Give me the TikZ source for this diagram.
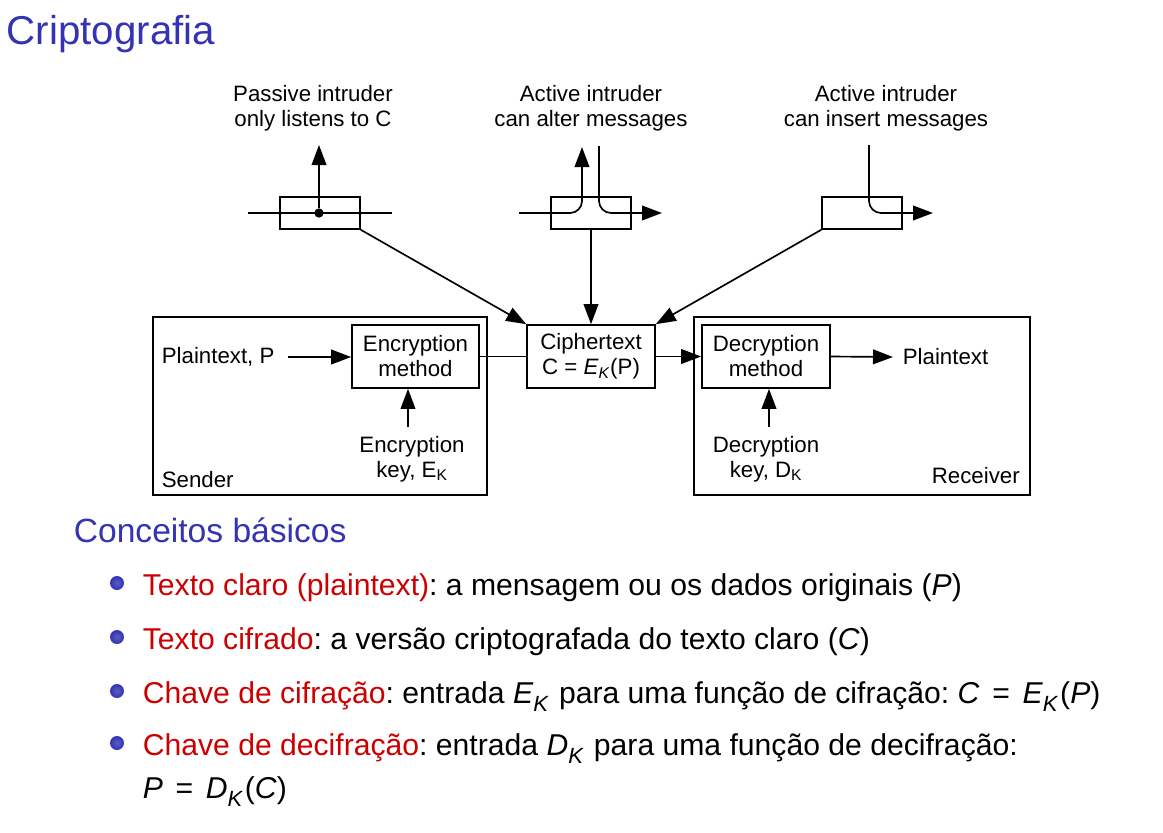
\documentclass[tikz,border=0pt]{standalone}
\usepackage{fontspec}
\setmainfont{Liberation Sans}
\usetikzlibrary{arrows.meta}
\definecolor{titleblue}{RGB}{51,51,179}
\definecolor{alertred}{RGB}{204,0,0}
\newcommand{\ital}[1]{\textit{#1}}
\newcommand{\subK}{\textsubscript{\textit{K}}}
\newcommand{\msubK}{\raisebox{-0.28em}{\fontsize{16.5}{16}\selectfont\textit{K}}\kern0.06em}
\newcommand{\meq}{\hspace{0.42em}=\hspace{0.42em}}
\frenchspacing
\begin{document}
\begin{tikzpicture}[x=0.75pt,y=-0.75pt,
  line width=1.25pt,
  >={Triangle[length=15pt,width=11pt]},
  dfont/.style={font=\fontsize{16.7}{18.8}\selectfont},
  box/.style={draw, line width=1.25pt, inner sep=0pt, dfont, align=center},
  lbl/.style={inner sep=0pt, dfont, align=center},
  itext/.style={anchor=base west, inner sep=0pt, font=\fontsize{22.6}{27}\selectfont},
  bball/.style={circle, inner sep=0pt, minimum size=10.5pt, inner color=titleblue!80!white, outer color=titleblue},
  hot/.style={text=alertred}
]
\useasboundingbox (0,0) rectangle (1163,832);

% title
\node[anchor=base west, inner sep=0pt, font=\fontsize{30.2}{36}\selectfont, text=titleblue] (title) at (6,44) {Criptografia};

% intruder labels
\node[lbl] (l1) at (313,108) {Passive intruder\\only listens to C};
\node[lbl] (l2) at (591,108) {Active intruder\\can alter messages};
\node[lbl] (l3) at (886,108) {Active intruder\\can insert messages};

% intruder boxes
\node[box, minimum width=60pt, minimum height=24pt] (b1) at (320,213) {};
\node[box, minimum width=60pt, minimum height=24pt] (b2) at (591,213) {};
\node[box, minimum width=60pt, minimum height=24pt] (b3) at (862,213) {};

% main boxes
\node[box, minimum width=250.5pt, minimum height=133.5pt] (sender) at (320,406) {};
\node[box, minimum width=252pt, minimum height=133.5pt] (receiver) at (862,406) {};
\node[box, minimum width=95.25pt, minimum height=47.25pt] (enc) at (415.5,356.5) {\raisebox{-1.5pt}{\parbox{90pt}{\centering Encryption\\method}}};
\node[box, minimum width=96pt, minimum height=47.25pt] (ciph) at (591,356.5) {\raisebox{-1.5pt}{\parbox{90pt}{\centering Ciphertext\\C = \ital{E}\subK(P)}}};
\node[box, minimum width=96pt, minimum height=47.25pt] (dec) at (766,356.5) {\raisebox{-1.5pt}{\parbox{90pt}{\centering Decryption\\method}}};

% texts in the boxes
\node[lbl, anchor=west] (ptin) at (161,357) {Plaintext, P};
\node[lbl, anchor=west] (ptout) at (902,357) {Plaintext};
\node[lbl] (ekey) at (412,459) {Encryption\\key, E\textsubscript{K}};
\node[lbl] (dkey) at (766,459) {Decryption\\key, D\textsubscript{K}};
\node[lbl, anchor=base west] (sendlbl) at (161,487) {Sender};
\node[lbl, anchor=base west] (recvlbl) at (931,483) {Receiver};

% passive intruder
\coordinate (p1l) at (248,213);
\coordinate (p1r) at (392,213);
\coordinate (p1up) at (319,145);
\draw (p1l) -- (p1r);
\node[circle, fill, inner sep=0pt, minimum size=7pt] (dot) at (319,213) {};
\draw[->] (dot) -- (p1up);
\draw[->] (b1.south east) -- (ciph.north west);

% active intruder alter
\coordinate (a2in) at (519,213);
\coordinate (a2up) at (582,147);
\coordinate (a2dn) at (599,146);
\coordinate (a2out) at (662,213);
\draw[->, rounded corners=9pt] (a2in) -- (a2in -| a2up) -- (a2up);
\draw[->, rounded corners=9pt] (a2dn) -- (a2dn |- a2out) -- (a2out);
\draw[->] (b2.south) -- (ciph.north);

% active intruder insert
\coordinate (a3dn) at (869,145);
\coordinate (a3out) at (933,213);
\draw[->, rounded corners=9pt] (a3dn) -- (a3dn |- a3out) -- (a3out);
\draw[->] (b3.south west) -- (ciph.north east);

% main flow
\coordinate (ptarrow) at (288,357);
\draw[->] (ptarrow) -- (ptarrow -| enc.west);
\coordinate (ekarrow) at (408,427);
\draw[->] (ekarrow) -- (ekarrow |- enc.south);
\draw (enc.east) -- (ciph.west);
\draw[->] (ciph.east) -- (dec.west);
\coordinate (ptoutarrow) at (893,357);
\draw[->] (dec.east) -- (ptoutarrow);
\coordinate (dkarrow) at (769,427);
\draw[->] (dkarrow) -- (dkarrow |- dec.south);

% concepts
\node[anchor=base west, inner sep=0pt, font=\fontsize{25.2}{30}\selectfont, text=titleblue] (sub) at (73,542) {Conceitos básicos};

\node[bball] (ball1) at (117,583) {};
\node[itext] (t1) at (142,595) {\textcolor{alertred}{Texto claro (plaintext)}: a mensagem ou os dados originais (\ital{P})};
\node[bball] (ball2) at (117,637) {};
\node[itext] (t2) at (142,649) {\textcolor{alertred}{Texto cifrado}: a versão criptografada do texto claro (\ital{C})};
\node[bball] (ball3) at (117,691) {};
\node[itext] (t3) at (142,703) {\textcolor{alertred}{Chave de cifração}: entrada \ital{E}\msubK{} para uma função de cifração: \ital{C}\meq\ital{E}\msubK(\ital{P})};
\node[bball] (ball4) at (117,743) {};
\node[itext] (t4) at (142,755) {\textcolor{alertred}{Chave de decifração}: entrada \ital{D}\msubK{} para uma função de decifração:};
\node[itext] (t5) at (142,798) {\ital{P}\meq\ital{D}\msubK(\ital{C})};
\end{tikzpicture}
\end{document}
